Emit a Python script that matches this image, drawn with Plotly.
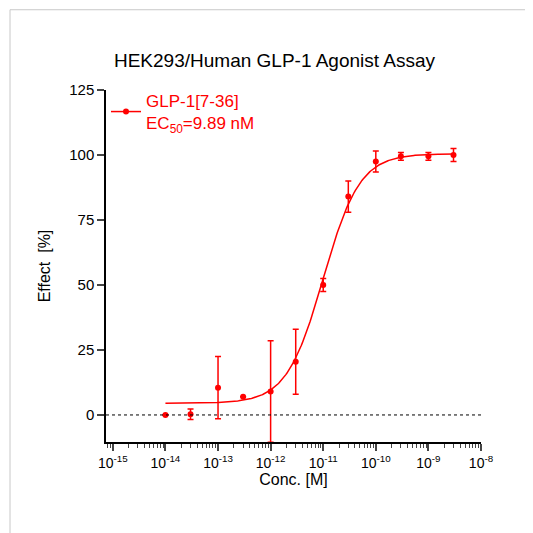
import numpy as np
import plotly.graph_objects as go

conc = [1e-14, 3e-14, 1e-13, 3e-13, 1e-12, 3e-12, 1e-11, 3e-11, 1e-10, 3e-10, 1e-9, 3e-9]
effect = [0, 0.3, 10.5, 7, 9, 20.5, 50, 84, 97.5, 99.5, 99.5, 100]
err = [0, 2, 12, 0, 19.5, 12.5, 2.5, 6, 4, 1.5, 1.5, 2.5]
fit_bottom, fit_top, fit_logec50, fit_hill = 4.5, 100.5, -11.0, 1.25
tick_exps = [-15, -14, -13, -12, -11, -10, -9, -8]

xc = np.logspace(-14, np.log10(3e-9), 300)
yc = fit_bottom + (fit_top - fit_bottom) / (1 + 10 ** ((fit_logec50 - np.log10(xc)) * fit_hill))

red = "#ff0000"
fig = go.Figure()
fig.add_trace(go.Scatter(x=xc, y=yc, mode="lines", line=dict(color=red, width=1.5), showlegend=False))
fig.add_trace(go.Scatter(x=conc, y=effect, mode="markers",
    marker=dict(color=red, size=6),
    error_y=dict(type="data", array=err, color=red, thickness=1.5, width=3),
    showlegend=False))
fig.add_trace(go.Scatter(x=[None], y=[None], mode="lines+markers", line=dict(color=red, width=1.5),
    marker=dict(color=red, size=6), name="GLP-1[7-36]<br>EC<sub>50</sub>=9.89 nM"))

fig.add_shape(type="line", xref="paper", x0=0, x1=1, y0=0, y1=0, line=dict(color="black", width=1, dash="dot"))
fig.add_shape(type="rect", xref="paper", yref="paper", x0=-0.256, x1=1.155, y0=-0.276, y1=1.228,
              line=dict(color="#c8c8c8", width=1))

fig.update_layout(
    width=533, height=533, plot_bgcolor="white", paper_bgcolor="white",
    margin=dict(l=98, r=60, t=82, b=99),
    font=dict(family="Liberation Sans, Arial", size=14, color="black"),
    title=dict(text="HEK293/Human GLP-1 Agonist Assay", x=0.5, xanchor="center", y=0.915, font=dict(size=19)),
    legend=dict(x=0.0, y=1.02, xanchor="left", yanchor="top", font=dict(color=red, size=17), bgcolor="rgba(0,0,0,0)"),
    xaxis=dict(type="log", range=[-15.13, -8], showgrid=False, zeroline=False, showline=True,
               linecolor="black", linewidth=1.5, ticks="outside", ticklen=7, tickwidth=1.5,
               tickvals=[10.0 ** e for e in tick_exps],
               ticktext=[f"10<sup>{e}</sup>" for e in tick_exps],
               minor=dict(ticks="outside", ticklen=4, tickwidth=1, dtick="D1", showgrid=False),
               title=dict(text="Conc. [M]", standoff=2, font=dict(size=16))),
    yaxis=dict(range=[-10.4, 125], showgrid=False, zeroline=False, showline=True, linecolor="black",
               linewidth=1.5, ticks="outside", ticklen=7, tickwidth=1.5, tickvals=[0, 25, 50, 75, 100, 125],
               tickfont=dict(size=15), title=dict(text="Effect  [%]", font=dict(size=16))),
)
fig.write_html("out.html")
